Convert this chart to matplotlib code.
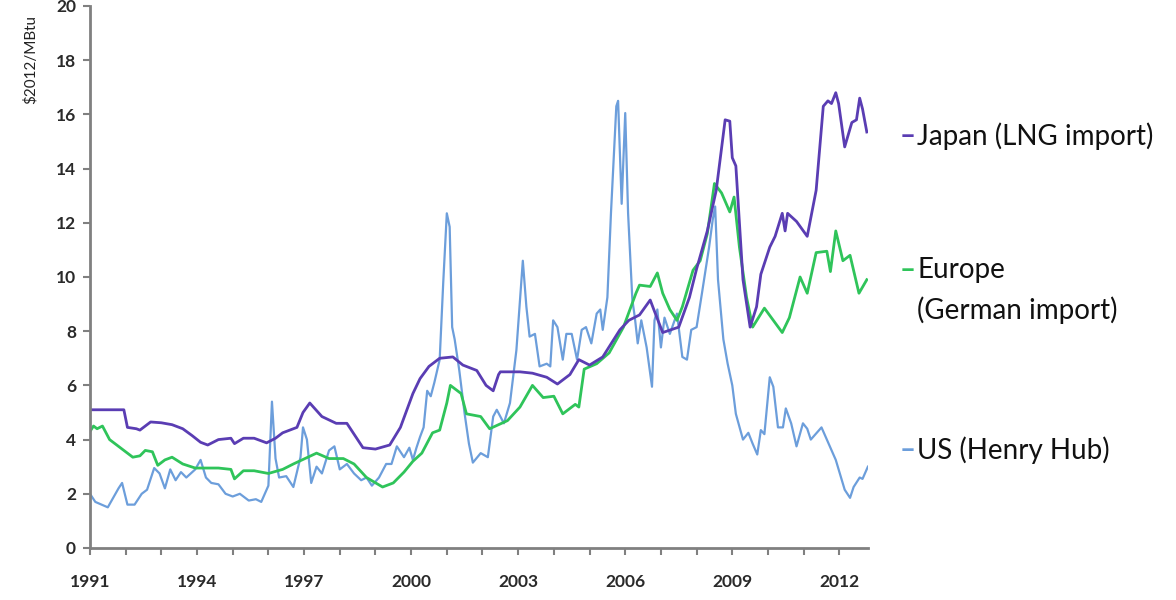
import matplotlib.pyplot as plt
from matplotlib.ticker import MultipleLocator
import numpy as np

# Japan (LNG import), $2012/MBtu
jp_t = [1991.0, 1991.95, 1992.05, 1992.3, 1992.4, 1992.7, 1993.0, 1993.3, 1993.6,
        1993.86, 1994.1, 1994.3, 1994.6, 1994.95, 1995.05, 1995.3, 1995.6, 1995.95,
        1996.2, 1996.4, 1996.8, 1996.97, 1997.16, 1997.5, 1997.9, 1998.2, 1998.65,
        1999.0, 1999.4, 1999.7, 2000.05, 2000.25, 2000.5, 2000.8, 2001.17, 2001.45,
        2001.84, 2002.1, 2002.3, 2002.45, 2002.5, 2003.05, 2003.4, 2003.8, 2004.1,
        2004.45, 2004.7, 2005.0, 2005.37, 2005.85, 2006.1, 2006.4, 2006.7, 2006.8,
        2007.05, 2007.5, 2007.8, 2008.0, 2008.3, 2008.55, 2008.8, 2008.93, 2009.0,
        2009.1, 2009.3, 2009.5, 2009.68, 2009.8, 2010.05, 2010.2, 2010.4, 2010.48,
        2010.55, 2010.8, 2011.1, 2011.35, 2011.55, 2011.68, 2011.78, 2011.9, 2011.98,
        2012.15, 2012.35, 2012.48, 2012.57, 2012.65, 2012.77]
jp_v = [5.1, 5.1, 4.45, 4.4, 4.35, 4.65, 4.62, 4.55, 4.4,
        4.15, 3.9, 3.8, 4.0, 4.05, 3.85, 4.05, 4.05, 3.88,
        4.05, 4.25, 4.45, 5.0, 5.35, 4.85, 4.6, 4.6, 3.7,
        3.65, 3.8, 4.45, 5.7, 6.25, 6.7, 7.0, 7.05, 6.75,
        6.55, 6.0, 5.8, 6.4, 6.5, 6.5, 6.45, 6.3, 6.05,
        6.4, 6.95, 6.75, 7.05, 8.05, 8.4, 8.6, 9.15, 8.8,
        7.95, 8.15, 9.25, 10.3, 11.7, 13.2, 15.8, 15.75, 14.4,
        14.1, 9.9, 8.15, 8.9, 10.1, 11.1, 11.5, 12.35, 11.7,
        12.35, 12.05, 11.5, 13.2, 16.3, 16.5, 16.4, 16.8, 16.4,
        14.8, 15.7, 15.8, 16.6, 16.2, 15.35]

# Europe (German import)
eu_t = [1991.0, 1991.1, 1991.2, 1991.35, 1991.55, 1991.8, 1992.2, 1992.4, 1992.55,
        1992.75, 1992.9, 1993.1, 1993.3, 1993.6, 1993.95, 1994.6, 1994.95, 1995.05,
        1995.3, 1995.6, 1996.0, 1996.4, 1996.7, 1997.35, 1997.7, 1998.1, 1998.4,
        1998.75, 1999.2, 1999.5, 1999.8, 2000.05, 2000.3, 2000.6, 2000.8, 2001.0,
        2001.1, 2001.4, 2001.55, 2001.95, 2002.2, 2002.7, 2003.05, 2003.4, 2003.7,
        2004.0, 2004.25, 2004.6, 2004.7, 2004.85, 2005.2, 2005.55, 2005.95, 2006.3,
        2006.4, 2006.7, 2006.9, 2007.05, 2007.25, 2007.45, 2007.6, 2007.9, 2008.1,
        2008.3, 2008.5, 2008.7, 2008.93, 2009.05, 2009.2, 2009.4, 2009.57, 2009.9,
        2010.15, 2010.4, 2010.6, 2010.9, 2011.1, 2011.35, 2011.65, 2011.75, 2011.9,
        2012.1, 2012.3, 2012.55, 2012.77]
eu_v = [4.3, 4.5, 4.4, 4.5, 4.0, 3.75, 3.35, 3.4, 3.6,
        3.55, 3.05, 3.25, 3.35, 3.1, 2.95, 2.95, 2.9, 2.55,
        2.85, 2.85, 2.75, 2.9, 3.1, 3.5, 3.3, 3.3, 3.1,
        2.6, 2.25, 2.4, 2.8, 3.2, 3.5, 4.25, 4.35, 5.35,
        6.0, 5.7, 4.95, 4.85, 4.4, 4.7, 5.2, 6.0, 5.55,
        5.6, 4.95, 5.3, 5.2, 6.6, 6.8, 7.2, 8.15, 9.4,
        9.7, 9.65, 10.15, 9.4, 8.8, 8.4, 8.9, 10.25, 10.6,
        11.6, 13.45, 13.1, 12.4, 12.95, 11.1, 9.25, 8.15, 8.85,
        8.4, 7.95, 8.5, 10.0, 9.4, 10.9, 10.95, 10.2, 11.7,
        10.6, 10.8, 9.4, 9.9]

# US (Henry Hub)
us_t = [1991.0, 1991.15, 1991.5, 1991.8, 1991.9, 1992.05, 1992.25, 1992.45, 1992.6,
        1992.8, 1992.95, 1993.1, 1993.25, 1993.4, 1993.55, 1993.7, 1993.95, 1994.1,
        1994.25, 1994.4, 1994.6, 1994.8, 1995.0, 1995.2, 1995.45, 1995.65, 1995.8,
        1996.0, 1996.1, 1996.2, 1996.3, 1996.5, 1996.7, 1996.9, 1996.97, 1997.08,
        1997.2, 1997.35, 1997.5, 1997.7, 1997.85, 1998.0, 1998.2, 1998.4, 1998.6,
        1998.75, 1998.9, 1999.1, 1999.3, 1999.45, 1999.6, 1999.8, 1999.95, 2000.05,
        2000.15, 2000.25, 2000.35, 2000.45, 2000.55, 2000.65, 2000.8, 2000.9, 2001.0,
        2001.08, 2001.15, 2001.22, 2001.35, 2001.5, 2001.62, 2001.73, 2001.95, 2002.15,
        2002.3, 2002.4, 2002.6, 2002.77, 2002.95, 2003.13, 2003.23, 2003.32, 2003.47,
        2003.6, 2003.8, 2003.9, 2003.98, 2004.1, 2004.25, 2004.35, 2004.5, 2004.65,
        2004.78, 2004.9, 2005.05, 2005.2, 2005.3, 2005.37, 2005.5, 2005.6, 2005.75,
        2005.8, 2005.9, 2006.0, 2006.08, 2006.2, 2006.27, 2006.35, 2006.45, 2006.6,
        2006.75, 2006.82, 2006.9, 2007.0, 2007.1, 2007.25, 2007.45, 2007.6, 2007.73,
        2007.85, 2008.0, 2008.15, 2008.35, 2008.45, 2008.52, 2008.6, 2008.75, 2008.87,
        2009.0, 2009.1, 2009.3, 2009.45, 2009.57, 2009.7, 2009.8, 2009.9, 2010.05,
        2010.15, 2010.28, 2010.42, 2010.5, 2010.65, 2010.8, 2010.98, 2011.1, 2011.2,
        2011.5, 2011.7, 2011.9, 2012.15, 2012.3, 2012.4, 2012.57, 2012.65, 2012.8]
us_v = [2.0, 1.7, 1.5, 2.2, 2.4, 1.6, 1.6, 2.0, 2.15,
        2.95, 2.75, 2.2, 2.9, 2.5, 2.8, 2.6, 2.9, 3.25,
        2.6, 2.4, 2.35, 2.0, 1.9, 2.0, 1.75, 1.8, 1.7,
        2.3, 5.4, 3.3, 2.6, 2.65, 2.25, 3.35, 4.45, 4.0,
        2.4, 3.0, 2.75, 3.6, 3.75, 2.9, 3.1, 2.75, 2.5,
        2.6, 2.3, 2.6, 3.1, 3.1, 3.75, 3.35, 3.7, 3.25,
        3.7, 4.1, 4.45, 5.8, 5.6, 6.1, 6.95, 9.8, 12.35,
        11.85, 8.15, 7.7, 6.55, 4.95, 3.85, 3.15, 3.5, 3.35,
        4.85, 5.1, 4.6, 5.35, 7.3, 10.6, 8.9, 7.8, 7.9,
        6.7, 6.8, 6.7, 8.4, 8.15, 6.95, 7.9, 7.9, 6.95,
        8.05, 8.15, 7.55, 8.65, 8.8, 8.05, 9.25, 12.35, 16.3,
        16.5, 12.7, 16.05, 12.35, 9.15, 8.5, 7.55, 8.4, 7.4,
        5.95, 8.4, 8.8, 7.4, 8.5, 7.9, 8.65, 7.05, 6.95,
        8.05, 8.15, 9.4, 11.1, 12.1, 12.6, 9.9, 7.7, 6.8,
        6.0, 4.95, 4.0, 4.25, 3.85, 3.45, 4.35, 4.2, 6.3,
        5.95, 4.45, 4.45, 5.15, 4.6, 3.75, 4.6, 4.4, 4.0,
        4.45, 3.85, 3.25, 2.15, 1.85, 2.25, 2.6, 2.55, 3.0]

year_labels = [1991, 1994, 1997, 2000, 2003, 2006, 2009, 2012]

c_jp = '#5a3db3'
c_eu = '#2fc45a'
c_us = '#6c9edb'
grey = '#808080'

fig = plt.figure(figsize=(11.76, 6), dpi=100)
ax = fig.add_axes([0.0765, 0.0867, 0.6615, 0.9033])

ax.plot(us_t, us_v, color=c_us, lw=1.6)
ax.plot(eu_t, eu_v, color=c_eu, lw=2.0)
ax.plot(jp_t, jp_v, color=c_jp, lw=2.0)

ax.set_xlim(1991, 2012.8)
ax.set_ylim(0, 20)
ax.set_yticks(range(0, 21, 2))
ax.set_xticks(year_labels)
ax.xaxis.set_minor_locator(MultipleLocator(1))

for s in ['top', 'right']:
    ax.spines[s].set_visible(False)
for s in ['left', 'bottom']:
    ax.spines[s].set_color(grey)
    ax.spines[s].set_linewidth(2)

ax.tick_params(axis='both', which='both', colors=grey, width=1.5, length=5)
ax.tick_params(axis='x', which='major', pad=14)
ax.tick_params(axis='y', pad=5)
for lab in ax.get_xticklabels() + ax.get_yticklabels():
    lab.set_fontfamily('Lato')
    lab.set_fontweight('bold')
    lab.set_fontsize(12.5)
    lab.set_color('#2a2a2a')

fig.text(30 / 1176, 1 - 60 / 600, r'\$2012/MBtu', rotation=90, ha='center',
         va='center', fontsize=11, family='Lato', color='#222222')

# legend as text on the right
fs = 20
items = [(136, c_jp, 'Japan (LNG import)'),
         (270, c_eu, 'Europe'),
         (450, c_us, 'US (Henry Hub)')]
for ypx, col, txt in items:
    fig.text(900 / 1176, 1 - ypx / 600, '–', color=col, fontsize=fs,
             family='Lato', fontweight='bold', va='center', ha='left')
    fig.text(917 / 1176, 1 - ypx / 600, txt, color='#111111', fontsize=fs,
             family='Lato', va='center', ha='left')
fig.text(917 / 1176, 1 - 310 / 600, '(German import)', color='#111111',
         fontsize=fs, family='Lato', va='center', ha='left')

fig.savefig('out.png', dpi=100)
